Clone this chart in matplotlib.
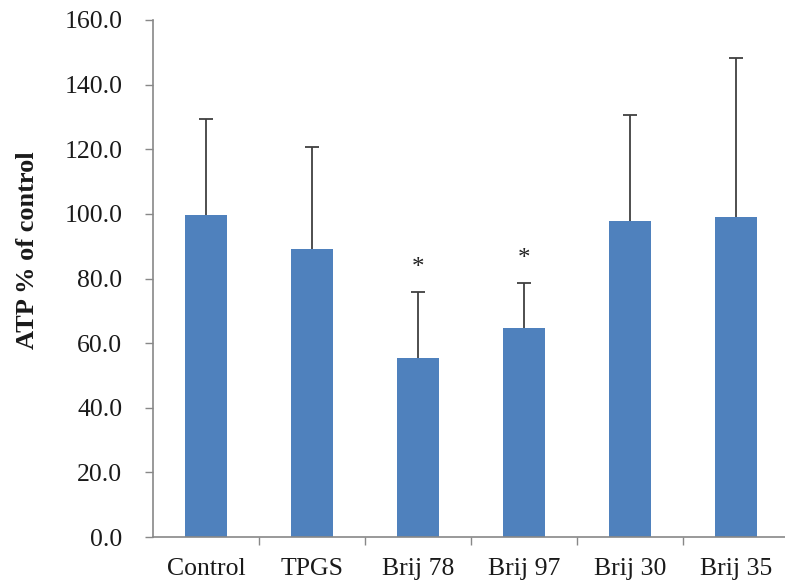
import matplotlib
matplotlib.use("Agg")
import matplotlib.pyplot as plt
import numpy as np

categories = ["Control", "TPGS", "Brij 78", "Brij 97", "Brij 30", "Brij 35"]
means = [99.8, 89.0, 55.5, 64.8, 97.9, 98.9]
errors = [29.6, 31.6, 20.4, 13.9, 32.6, 49.4]
significant = [False, False, True, True, False, False]
y_ticks = [0, 20, 40, 60, 80, 100, 120, 140, 160]

plt.rcParams['font.family'] = ['Liberation Serif', 'DejaVu Serif']

fig = plt.figure(figsize=(7.85, 5.87), dpi=100)
W, H = 785, 587
left, right, top, bottom = 153, 789, 20, 537
ax = fig.add_axes([left / W, 1 - bottom / H, (right - left) / W, (bottom - top) / H])

x = np.arange(len(categories))
means_a = np.array(means)
err_a = np.array(errors)
ax.bar(x, means_a, width=0.39, color="#4F81BD", zorder=2)
ax.vlines(x, means_a, means_a + err_a, color="#404040", linewidth=1.3, zorder=3)
ax.plot(x, means_a + err_a, linestyle="none", marker="_", markersize=10,
        markeredgewidth=1.3, color="#404040", zorder=3)

for xi, m, e, s in zip(x, means, errors, significant):
    if s:
        ax.annotate("*", xy=(xi, m + e), xytext=(0, 9), textcoords="offset points",
                    ha="center", va="bottom", fontsize=18, color="#222222")

ax.set_xlim(-0.5, len(categories) - 0.5)
ax.set_ylim(0, 160)
ax.set_yticks(y_ticks)
ax.set_yticklabels([f"{v:.1f}" for v in y_ticks], fontsize=18.5, color="#1a1a1a")
ax.set_xticks(x)
ax.set_xticklabels(categories, fontsize=18.5, color="#1a1a1a")
ax.set_xticks(np.arange(0.5, len(categories) - 0.5, 1), minor=True)
ax.tick_params(axis="x", which="major", length=0, pad=15)
ax.tick_params(axis="x", which="minor", length=6, width=1, color="#888888", direction="out")
ax.tick_params(axis="y", which="major", length=6, width=1, color="#888888", direction="out", pad=16)

for s in ["top", "right"]:
    ax.spines[s].set_visible(False)
for s in ["left", "bottom"]:
    ax.spines[s].set_color("#888888")
    ax.spines[s].set_linewidth(1.2)

ax.set_ylabel("ATP % of control", fontsize=19, fontweight="bold", color="#1a1a1a")
ax.yaxis.set_label_coords(-0.18, 0.555)

fig.savefig("out.png", dpi=100)
